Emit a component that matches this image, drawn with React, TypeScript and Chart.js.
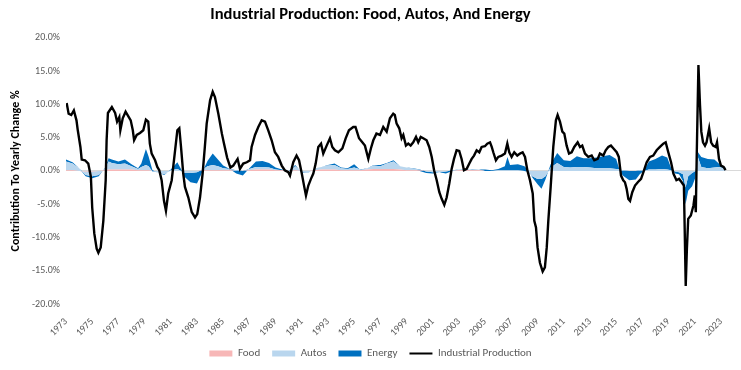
import React, { useEffect, useRef } from 'react';
import { Chart, registerables } from 'chart.js';
Chart.register(...registerables);

// Industrial production, YoY %
const ipYears = [
  1973.05, 1973.2, 1973.4, 1973.6, 1973.8, 1973.9, 1974.1, 1974.2, 1974.45, 1974.7, 1974.9,
  1975.0, 1975.16, 1975.34, 1975.47, 1975.65, 1975.85, 1976.03, 1976.1, 1976.2, 1976.5, 1976.75,
  1976.9, 1977.07, 1977.15, 1977.33, 1977.55, 1977.76, 1977.94, 1978.1, 1978.2, 1978.4, 1978.65,
  1978.9, 1979.1, 1979.28, 1979.4, 1979.54, 1979.8, 1979.97, 1980.12, 1980.3, 1980.48, 1980.63,
  1980.8, 1981.07, 1981.3, 1981.5, 1981.65, 1981.78, 1981.95, 1982.08, 1982.34, 1982.6, 1982.85,
  1983.02, 1983.23, 1983.43, 1983.6, 1983.74, 1984.0, 1984.2, 1984.37, 1984.63, 1984.9, 1985.06,
  1985.3, 1985.55, 1985.77, 1986.1, 1986.28, 1986.53, 1986.8, 1987.05, 1987.17, 1987.43, 1987.68,
  1987.94, 1988.19, 1988.44, 1988.7, 1988.95, 1989.2, 1989.47, 1989.7, 1989.97, 1990.1, 1990.35,
  1990.6, 1990.79, 1991.0, 1991.19, 1991.32, 1991.5, 1991.7, 1991.88, 1992.06, 1992.26, 1992.47,
  1992.64, 1992.9, 1993.15, 1993.33, 1993.53, 1993.79, 1994.1, 1994.35, 1994.6, 1994.93, 1995.1,
  1995.37, 1995.62, 1995.82, 1996.08, 1996.28, 1996.46, 1996.7, 1996.97, 1997.22, 1997.48, 1997.73,
  1997.98, 1998.1, 1998.24, 1998.44, 1998.62, 1998.75, 1998.95, 1999.13, 1999.31, 1999.51, 1999.72,
  1999.89, 2000.08, 2000.27, 2000.53, 2000.73, 2000.92, 2001.1, 2001.3, 2001.5, 2001.68, 2001.88,
  2002.06, 2002.26, 2002.44, 2002.62, 2002.82, 2003.02, 2003.2, 2003.38, 2003.59, 2003.79, 2003.97,
  2004.15, 2004.35, 2004.55, 2004.73, 2004.98, 2005.16, 2005.37, 2005.5, 2005.62, 2005.82, 2006.0,
  2006.26, 2006.51, 2006.69, 2006.84, 2007.02, 2007.22, 2007.45, 2007.66, 2007.86, 2008.04, 2008.22,
  2008.42, 2008.63, 2008.75, 2008.88, 2009.0, 2009.18, 2009.39, 2009.56, 2009.7, 2009.82, 2010.0,
  2010.2, 2010.4, 2010.53, 2010.71, 2010.89, 2011.04, 2011.22, 2011.4, 2011.6, 2011.8, 2012.06,
  2012.24, 2012.41, 2012.62, 2012.87, 2013.13, 2013.33, 2013.59, 2013.76, 2014.02, 2014.2, 2014.4,
  2014.6, 2014.78, 2015.04, 2015.2, 2015.37, 2015.54, 2015.67, 2015.8, 2015.93, 2016.06, 2016.23,
  2016.44, 2016.65, 2016.9, 2017.08, 2017.33, 2017.58, 2017.83, 2018.09, 2018.34, 2018.6, 2018.78,
  2018.98, 2019.19, 2019.37, 2019.6, 2019.8, 2020.0, 2020.17, 2020.25, 2020.31, 2020.4, 2020.5,
  2020.7, 2020.9, 2021.0, 2021.08, 2021.15, 2021.28, 2021.4, 2021.5, 2021.63, 2021.78, 2021.9,
  2022.1, 2022.25, 2022.4, 2022.6, 2022.7, 2022.85, 2023.0, 2023.2, 2023.35,
];
const ipValues = [
  10.2, 8.6, 8.4, 9.1, 7.6, 6.1, 3.6, 1.7, 1.6, 1.1, -0.9,
  -5.5, -9.4, -11.7, -12.3, -11.5, -7.5, -1.4, 4.6, 8.7, 9.6, 8.7,
  7.4, 8.1, 6.1, 7.9, 8.9, 8.2, 7.6, 6.1, 4.6, 5.4, 5.7,
  6.1, 7.7, 7.4, 4.1, 2.6, 1.6, 0.6, 0.1, -1.4, -4.5, -6.0,
  -3.4, -1.4, 2.6, 6.1, 6.4, 3.6, -0.4, -2.4, -4.0, -6.2, -7.0,
  -6.5, -4.0, -0.4, 3.6, 7.1, 10.6, 11.9, 11.1, 8.6, 5.6, 4.1,
  2.0, 0.5, 0.8, 1.8, 0.3, 1.1, 1.3, 1.6, 3.6, 5.4, 6.6,
  7.6, 7.4, 6.1, 4.6, 2.8, 2.1, 0.8, 0.1, -0.2, -0.7, 1.3,
  2.3, 1.6, -0.4, -2.4, -3.7, -2.2, -1.2, -0.4, 1.1, 3.6, 4.1,
  2.6, 3.8, 4.9, 3.6, 3.1, 2.8, 3.4, 4.9, 6.1, 6.6, 6.6,
  4.9, 4.3, 3.8, 1.8, 3.4, 4.6, 5.6, 5.4, 6.6, 5.9, 7.9,
  8.6, 8.4, 7.1, 6.4, 4.9, 5.4, 3.8, 4.1, 3.8, 4.3, 5.1,
  4.3, 5.1, 4.9, 4.6, 3.6, 2.1, 0.1, -1.4, -3.2, -4.2, -5.1,
  -4.0, -1.9, 0.3, 1.8, 3.1, 3.0, 1.8, 0.1, 0.3, 1.1, 1.8,
  2.3, 3.1, 2.8, 3.6, 3.7, 4.1, 4.3, 3.6, 2.8, 1.6, 2.1,
  2.3, 2.6, 4.1, 2.8, 2.1, 2.8, 2.3, 2.6, 2.8, 2.1, 0.1,
  -1.4, -3.4, -7.5, -8.5, -11.5, -13.8, -15.1, -14.5, -11.5, -7.5, -2.4,
  3.6, 7.6, 8.4, 7.4, 5.9, 5.6, 3.8, 2.6, 2.8, 3.6, 4.3,
  3.6, 3.8, 2.6, 2.1, 2.3, 1.6, 1.8, 2.6, 2.3, 3.1, 3.6,
  3.8, 3.4, 2.8, 2.1, -0.7, -1.4, -1.7, -2.7, -4.2, -4.5, -3.2,
  -2.2, -1.7, -1.2, -0.2, 1.3, 2.1, 2.3, 3.1, 3.6, 4.1, 4.3,
  2.8, 1.3, -0.4, -1.4, -1.2, -1.7, -2.2, -10.7, -17.3, -11.7, -7.2,
  -6.7, -5.2, -3.7, -6.2, 2.3, 15.9, 9.9, 5.9, 4.3, 3.8, 4.3,
  6.4, 4.3, 3.8, 3.6, 4.3, 1.8, 0.8, 0.6, 0.1,
];

// Contributions (percentage points)
const areaYears = [
  1973.0, 1973.5, 1974.0, 1974.5, 1975.0, 1975.5, 1976.0, 1976.25, 1976.5, 1977.0,
  1977.5, 1978.0, 1978.5, 1978.75, 1979.1, 1979.3, 1979.6, 1980.0, 1980.5, 1981.0,
  1981.5, 1981.8, 1982.0, 1982.5, 1983.0, 1983.5, 1983.8, 1984.2, 1984.6, 1985.0,
  1985.5, 1986.0, 1986.5, 1987.0, 1987.5, 1988.0, 1988.5, 1989.0, 1989.5, 1990.0,
  1990.5, 1991.0, 1991.5, 1992.0, 1992.5, 1993.0, 1993.5, 1994.0, 1994.5, 1995.0,
  1995.5, 1996.0, 1996.5, 1997.0, 1997.5, 1998.0, 1998.5, 1999.0, 1999.5, 2000.0,
  2000.5, 2001.0, 2001.5, 2002.0, 2002.5, 2003.0, 2003.5, 2004.0, 2004.5, 2005.0,
  2005.5, 2006.0, 2006.5, 2006.7, 2006.9, 2007.5, 2008.0, 2008.3, 2008.6, 2009.0,
  2009.3, 2009.6, 2010.0, 2010.5, 2011.0, 2011.5, 2012.0, 2012.5, 2013.0, 2013.5,
  2014.0, 2014.5, 2015.0, 2015.25, 2015.5, 2016.0, 2016.5, 2016.8, 2017.1, 2017.5,
  2018.0, 2018.5, 2018.9, 2019.2, 2019.5, 2019.8, 2020.1, 2020.3, 2020.5, 2020.8,
  2021.05, 2021.25, 2021.5, 2022.0, 2022.5, 2022.9, 2023.35,
];
const foodValues = [
  0.1, 0.1, 0.0, -0.1, -0.1, 0.0, 0.1, 0.2, 0.2, 0.2,
  0.2, 0.2, 0.1, 0.1, 0.1, 0.1, 0.0, 0.0, 0.0, 0.0,
  0.0, 0.0, 0.0, 0.0, 0.0, 0.1, 0.1, 0.1, 0.1, 0.1,
  0.1, 0.0, 0.0, 0.1, 0.2, 0.2, 0.2, 0.1, 0.1, 0.0,
  0.1, 0.0, 0.0, 0.1, 0.2, 0.2, 0.2, 0.1, 0.1, 0.1,
  0.1, 0.2, 0.3, 0.3, 0.3, 0.3, 0.2, 0.1, 0.1, 0.1,
  0.0, 0.0, 0.0, 0.0, 0.0, 0.1, 0.1, 0.1, 0.1, 0.0,
  0.0, 0.0, 0.0, 0.0, 0.0, 0.0, 0.0, 0.0, 0.0, 0.0,
  0.0, 0.0, 0.0, 0.0, 0.0, 0.0, 0.0, 0.0, 0.0, 0.0,
  0.0, 0.0, 0.0, 0.0, 0.0, 0.0, 0.0, 0.0, 0.0, 0.0,
  0.0, 0.0, 0.0, 0.0, 0.0, 0.0, 0.0, 0.0, 0.0, 0.0,
  0.0, 0.0, 0.0, 0.0, 0.0, 0.0, 0.0,
];
const autosValues = [
  1.3, 1.0, 0.4, -0.5, -0.7, -0.6, 0.3, 1.2, 1.0, 0.8,
  0.9, 0.5, 0.2, 0.5, 0.8, 0.6, -0.1, -0.2, -0.5, 0.1,
  0.3, 0.0, -0.3, -0.3, -0.2, 0.2, 0.6, 0.8, 0.6, 0.3,
  0.2, 0.1, 0.0, 0.2, 0.4, 0.4, 0.3, 0.1, 0.0, -0.1,
  0.6, -0.2, -0.3, 0.3, 0.4, 0.6, 0.7, 0.3, 0.2, 0.4,
  0.1, 0.2, 0.5, 0.4, 0.8, 1.1, 0.5, 0.4, 0.3, 0.1,
  -0.1, -0.2, -0.2, -0.1, 0.1, 0.1, 0.1, 0.1, 0.1, 0.0,
  0.0, 0.1, 0.1, 0.1, 0.1, 0.1, 0.0, -0.2, -0.8, -1.2,
  -1.2, -0.8, 0.5, 1.2, 0.6, 0.5, 0.6, 0.6, 0.5, 0.4,
  0.4, 0.4, 0.3, 0.2, 0.1, 0.0, 0.0, 0.1, 0.0, 0.2,
  0.2, 0.3, 0.2, 0.1, -0.1, -0.2, -0.5, -2.5, -0.8, -0.3,
  0.0, 2.0, 0.6, 0.4, 0.5, 0.6, 0.3,
];
const energyValues = [
  0.3, 0.2, 0.0, -0.2, -0.3, -0.2, 0.1, 0.5, 0.5, 0.4,
  0.6, 0.3, 0.1, 0.5, 2.4, 1.5, 0.2, 0.0, -0.1, 0.1,
  1.0, 0.2, -0.5, -1.4, -1.7, -0.1, 0.8, 1.7, 1.0, 0.4,
  0.0, -0.5, -0.7, 0.1, 0.8, 0.9, 0.7, 0.3, 0.1, 0.1,
  0.2, -0.1, 0.0, 0.0, 0.0, 0.1, 0.2, 0.1, 0.1, 0.5,
  -0.1, 0.0, 0.1, 0.2, 0.1, 0.2, 0.0, 0.0, -0.1, -0.2,
  -0.2, -0.2, 0.0, -0.3, -0.1, 0.0, -0.1, 0.1, 0.0, 0.2,
  0.1, 0.2, 0.6, 2.0, 0.8, 0.9, 0.7, 0.3, -0.2, -0.8,
  -1.5, -0.5, 0.5, 1.5, 1.0, 1.0, 1.6, 1.3, 1.4, 1.6,
  1.8, 2.0, 1.5, 0.0, -0.8, -1.4, -1.3, -0.6, 0.0, 1.2,
  1.6, 2.0, 1.8, 0.3, -0.3, -0.3, -1.0, -2.5, -2.2, -2.0,
  -1.0, 0.8, 1.5, 1.4, 1.2, 0.4, 0.2,
];

const tickYears = [
  1973, 1975, 1977, 1979, 1981, 1983, 1985, 1987, 1989, 1991, 1993, 1995, 1997,
  1999, 2001, 2003, 2005, 2007, 2009, 2011, 2013, 2015, 2017, 2019, 2021, 2023,
];

const FONT = "Carlito, Lato, 'Open Sans', sans-serif";

export default function App() {
  const ref = useRef<HTMLCanvasElement>(null);

  useEffect(() => {
    document.body.style.margin = '0';
    const cumFood = foodValues.slice();
    const cumAutos = foodValues.map((v, i) => v + autosValues[i]);
    const cumEnergy = cumAutos.map((v, i) => v + energyValues[i]);
    const pts = (ys: number[]) => areaYears.map((x, i) => ({ x, y: ys[i] }));
    const ipPts = ipYears.map((x, i) => ({ x, y: ipValues[i] }));

    const area = (label: string, data: any, color: string, fill: any) => ({
      label,
      data,
      backgroundColor: color,
      borderColor: 'transparent',
      borderWidth: 0,
      fill,
      pointRadius: 0,
      pointHoverRadius: 0,
      pointStyle: 'rect',
      pointBackgroundColor: color,
      pointBorderColor: color,
      pointBorderWidth: 0,
    });

    const chart = new Chart(ref.current as HTMLCanvasElement, {
      type: 'line',
      data: {
        datasets: [
          area('Food', pts(cumFood), '#F7B7B7', 'origin'),
          area('Autos', pts(cumAutos), '#B9D6EE', '-1'),
          area('Energy', pts(cumEnergy), '#0070C0', '-1'),
          {
            label: 'Industrial Production',
            data: ipPts,
            borderColor: '#000000',
            backgroundColor: '#000000',
            borderWidth: 2.4,
            fill: false,
            pointRadius: 0,
            pointHoverRadius: 0,
            pointStyle: 'line',
            pointBorderColor: '#000000',
            pointBackgroundColor: '#000000',
            pointBorderWidth: 2,
            order: -1,
          } as any,
        ],
      },
      options: {
        animation: false,
        responsive: false,
        maintainAspectRatio: false,
        layout: { padding: { left: 0, right: 0, top: 0, bottom: 1 } },
        font: { family: FONT } as any,
        scales: {
          x: {
            type: 'linear',
            min: 1973,
            max: 2024.53,
            afterBuildTicks: (s: any) => {
              s.ticks = tickYears.map((v) => ({ value: v }));
            },
            afterFit: (s: any) => {
              s.height = 32;
            },
            ticks: {
              autoSkip: false,
              maxRotation: 45,
              minRotation: 45,
              padding: 4,
              color: '#595959',
              font: { family: FONT, size: 10 },
              callback: (v: any) => String(v),
            },
            grid: { display: false },
            border: { display: false },
          },
          y: {
            min: -20,
            max: 20,
            afterFit: (s: any) => {
              s.width = 66;
            },
            ticks: {
              stepSize: 5,
              padding: 6,
              color: '#595959',
              font: { family: FONT, size: 10 },
              callback: (v: any) => Number(v).toFixed(1) + '%',
            },
            grid: {
              drawTicks: false,
              color: (c: any) => (c.tick && c.tick.value === 0 ? '#D9D9D9' : 'rgba(0,0,0,0)'),
            },
            border: { display: false },
            title: {
              display: true,
              text: 'Contribution To Yearly Change %',
              color: '#000000',
              font: { family: FONT, size: 12, weight: 'bold' },
              padding: { top: 9, bottom: 2 },
            },
          },
        },
        plugins: {
          title: {
            display: true,
            text: 'Industrial Production: Food, Autos, And Energy',
            color: '#000000',
            font: { family: FONT, size: 16.5, weight: 'bold' },
            padding: { top: 5, bottom: 13 },
          },
          legend: {
            display: true,
            position: 'bottom',
            labels: {
              usePointStyle: true,
              pointStyleWidth: 23,
              boxHeight: 6,
              padding: 12,
              color: '#595959',
              font: { family: FONT, size: 11 },
              sort: (a: any, b: any) => a.datasetIndex - b.datasetIndex,
            },
          },
          tooltip: { enabled: false },
        },
      },
    });
    return () => chart.destroy();
  }, []);

  return (
    <div style={{ width: 741, height: 370 }}>
      <canvas ref={ref} width={741} height={370} style={{ display: 'block' }} />
    </div>
  );
}
